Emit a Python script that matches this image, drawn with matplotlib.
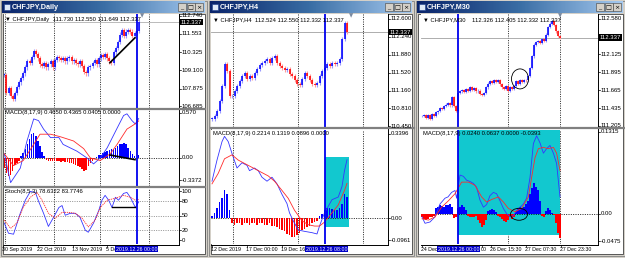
import matplotlib
matplotlib.use("Agg")
import matplotlib.pyplot as plt
import matplotlib.transforms as mtransforms
from matplotlib.colors import LinearSegmentedColormap
from matplotlib.patches import Rectangle, Ellipse
import numpy as np

W, H = 625, 258
plt.rcParams['font.family'] = ['Liberation Sans', 'DejaVu Sans']

# ---------------- CHFJPY, Daily ----------------
daily_close = [108.80, 107.60, 107.90, 107.40, 107.20, 107.60, 108.00, 108.30, 108.60, 108.90,
               109.30, 109.70, 109.60, 110.00, 110.40, 110.20, 109.90, 109.50, 109.40, 109.60,
               109.30, 109.50, 109.70, 109.30, 109.80, 110.00, 109.90, 109.80, 109.90, 109.70,
               109.90, 110.00, 109.70, 109.80, 109.60, 109.50, 109.70, 109.40, 109.00, 108.90,
               109.30, 109.40, 109.60, 109.80, 109.50, 109.90, 110.10, 110.00, 110.20, 109.90,
               109.70, 109.60, 110.30, 110.60, 111.00, 111.50, 111.80, 111.40, 111.70, 111.80,
               111.70, 111.40, 111.60, 111.73, 112.337]
daily_hist = [-0.12, -0.18, -0.21, -0.20, -0.15, -0.08, -0.06, -0.03,
              0.02, 0.06, 0.10, 0.16, 0.22, 0.28, 0.30, 0.26, 0.20, 0.14, 0.07, 0.02,
              -0.02, -0.03, -0.03, -0.04, -0.03, -0.04, -0.04, -0.05, -0.04, -0.05,
              -0.05, -0.06, -0.06, -0.07, -0.08, -0.09, -0.11, -0.13,
              -0.15, -0.14, -0.10, -0.06, -0.03, -0.01, 0.01, 0.03,
              0.04, 0.06, 0.07, 0.08, 0.09, 0.10, 0.11, 0.12, 0.14, 0.16,
              0.17, 0.18, 0.17, 0.12, 0.08, 0.05, 0.02, 0.00, 0.03]
daily_macd_x = [0, 3, 7.6, 10.8, 14, 16.3, 18.7, 22, 26, 28, 34.6, 39.4, 42.5, 45.7, 49,
                53.7, 56.8, 58.4, 60.8, 62.4, 64]
daily_macd = [0.05, -0.29, -0.12, 0.20, 0.46, 0.44, 0.34, 0.24, 0.24, 0.16, 0.08, 0.0, -0.07,
              0.0, 0.12, 0.35, 0.50, 0.52, 0.44, 0.40, 0.465]
daily_signal_x = [0, 4.4, 9, 14, 17, 22, 26.7, 33, 37.8, 41, 45.7, 50.5, 53.7, 58.4, 61.6, 64]
daily_signal = [0.05, -0.09, -0.03, 0.16, 0.28, 0.28, 0.25, 0.20, 0.11, 0.0, -0.03, 0.05,
                0.16, 0.34, 0.39, 0.4365]
daily_stoch_x = [0, 2, 4.4, 7.6, 10, 12.4, 14.8, 16.3, 18.7, 21, 23.5, 26, 27.5, 29, 31.4,
                 33.8, 36, 38.6, 40, 42.5, 45, 46.5, 48, 49.7, 51.3, 52.9, 54.4, 56.8, 58.4,
                 60, 62.4, 64]
daily_stoch = [35, 14, 12, 55, 82, 100, 98, 80, 55, 28, 47, 67, 71, 51, 55, 55, 47, 20, 16,
               35, 61, 82, 92, 82, 67, 88, 82, 96, 98, 88, 67, 78.6]
daily_stoch_sig_x = [0, 3, 6, 9, 12.4, 15.6, 18, 21, 24.3, 27.5, 30.6, 33.8, 37, 40, 43.3,
                     45.7, 49, 52.9, 56.8, 60, 62.4, 64]
daily_stoch_sig = [41, 24, 35, 67, 88, 98, 82, 55, 45, 57, 57, 55, 45, 27, 41, 67, 82, 86,
                   92, 88, 82, 83.8]
daily_price_ticks = [112.740, 111.553, 110.325, 109.100, 107.875, 106.685]

# ---------------- CHFJPY, H4 ----------------
h4_close = [110.60, 110.65, 110.75, 110.95, 111.25, 111.70, 111.55, 111.05, 111.05, 111.15,
            111.25, 111.35, 111.45, 111.52, 111.40, 111.45, 111.42, 111.52, 111.60, 111.68,
            111.72, 111.75, 111.80, 111.72, 111.82, 111.85, 111.72, 111.65, 111.62, 111.58,
            111.60, 111.50, 111.45, 111.38, 111.30, 111.28, 111.40, 111.52, 111.45, 111.38,
            111.30, 111.28, 111.32, 111.45, 111.55, 111.62, 111.70, 111.66, 111.72, 111.70,
            111.72, 111.80, 112.20, 112.52, 112.337]
h4_hist = [0.01, 0.02, 0.04, 0.06, 0.075, 0.105, 0.09, 0.03,
           -0.02, -0.025, -0.02, -0.02, -0.025, -0.02, -0.02, -0.025, -0.02, -0.02,
           -0.025, -0.02, -0.02, -0.025, -0.025, -0.02, -0.03, -0.03,
           -0.035, -0.04, -0.045, -0.05, -0.06, -0.065, -0.07, -0.07, -0.065, -0.055,
           -0.045, -0.04, -0.035, -0.03, -0.02, -0.015, -0.01,
           0.01, 0.015, 0.03, 0.04, 0.04, 0.035, 0.03, 0.03, 0.04, 0.055, 0.09, 0.08]
h4_macd_x = [0, 2, 4, 5, 6.5, 8, 10, 12, 14, 15, 17, 18.5, 20, 22, 24, 26, 28, 30, 31, 32.5,
             34.5, 37, 40, 42, 43, 45, 48, 50.5, 52, 53, 54]
h4_macd = [0.14, 0.22, 0.29, 0.31, 0.29, 0.245, 0.19, 0.21, 0.20, 0.18, 0.19, 0.18, 0.155,
           0.14, 0.155, 0.13, 0.09, 0.055, 0.02, -0.01, -0.045, -0.05, -0.055, -0.06, -0.03,
           0.02, 0.07, 0.08, 0.12, 0.18, 0.2214]
h4_signal_x = [0, 2.5, 5, 8, 10.5, 14.5, 18.5, 22.5, 25, 28, 30.5, 33, 36, 38.5, 41, 43, 45,
               48, 50.5, 53, 54]
h4_signal = [0.13, 0.17, 0.225, 0.24, 0.22, 0.20, 0.18, 0.16, 0.14, 0.105, 0.075, 0.03,
             -0.01, -0.025, -0.03, -0.03, -0.015, 0.02, 0.05, 0.105, 0.1319]
h4_price_ticks = [112.600, 112.240, 111.880, 111.520, 111.160, 110.810, 110.450]

# ---------------- CHFJPY, M30 ----------------
m30_close = [111.33, 111.35, 111.31, 111.34, 111.30, 111.36, 111.33, 111.38, 111.40, 111.43,
             111.42, 111.46, 111.48, 111.50, 111.47, 111.58, 111.46, 111.40, 111.63, 111.65,
             111.67, 111.64, 111.68, 111.66, 111.70, 111.67, 111.69, 111.65, 111.66, 111.62,
             111.60, 111.63, 111.70, 111.75, 111.78, 111.76, 111.80, 111.77, 111.80, 111.74,
             111.70, 111.68, 111.72, 111.66, 111.70, 111.68, 111.72, 111.78, 111.75, 111.79,
             111.77, 111.80, 111.79, 111.85, 111.95, 112.10, 112.25, 112.28, 112.30, 112.27,
             112.32, 112.30, 112.38, 112.48, 112.52, 112.55, 112.50, 112.42, 112.36, 112.337]
m30_hist = [-0.005, -0.008, -0.01, -0.008, -0.006, -0.005, -0.003,
            0.008, 0.01, 0.013, 0.012, 0.011, 0.013, 0.014, 0.015, 0.01,
            -0.007, -0.005,
            0.008, 0.01, 0.013, 0.011, 0.005,
            -0.003, -0.005, -0.006, -0.006, -0.004,
            -0.01, -0.015, -0.02, -0.018, -0.01,
            0.004, 0.006, 0.007, 0.006, 0.003,
            -0.003, -0.005,
            -0.008, -0.012, -0.013, -0.01, -0.006,
            -0.008, -0.005,
            0.004, 0.008, 0.01, 0.009,
            0.011, 0.015, 0.02, 0.031, 0.04, 0.047, 0.042, 0.036, 0.02,
            -0.004, -0.005,
            0.004, 0.008, 0.006,
            0.001, -0.002,
            -0.015, -0.03, -0.038]
m30_macd_x = [0, 1.5, 4, 6.5, 9, 11.5, 13, 14.8, 16.5, 17.3, 19, 20.7, 22.3, 24, 25.7, 27.3,
              29, 30.7, 32.3, 34, 35.7, 37.3, 39, 40.7, 42.3, 44, 45.7, 47.3, 49, 50.7, 52.3,
              54, 55.7, 57.3, 59, 60.7, 62.3, 64, 65.7, 67.3, 69]
m30_macd = [-0.005, -0.015, -0.013, -0.005, 0.015, 0.024, 0.026, 0.033, 0.036, 0.024, 0.06,
            0.058, 0.052, 0.05, 0.047, 0.041, 0.021, 0.01, 0.014, 0.028, 0.033, 0.031, 0.02,
            0.008, 0.0, -0.005, -0.003, 0.005, 0.01, 0.015, 0.024, 0.056, 0.109, 0.121, 0.11,
            0.094, 0.101, 0.106, 0.094, 0.078, 0.026]
m30_signal_x = [0, 3.2, 6.5, 9.8, 13.2, 16.5, 19.8, 23.2, 26.5, 29.8, 32.3, 34.8, 38.2, 40.7,
                43.2, 46.5, 49.8, 53.2, 54.8, 56.5, 58.2, 60.7, 63.2, 65.7, 67.3, 69]
m30_signal = [-0.008, -0.01, -0.005, 0.01, 0.02, 0.031, 0.049, 0.049, 0.044, 0.026, 0.018,
              0.022, 0.026, 0.018, 0.008, 0.003, 0.008, 0.026, 0.056, 0.087, 0.101, 0.103,
              0.101, 0.103, 0.094, 0.067]
m30_price_ticks = [112.580, 112.125, 111.895, 111.665, 111.435, 111.205]

current_price = 112.337

BLUE, RED = '#0000ff', '#ff0000'
CYAN = '#12c8cf'
FRAME = '#d4d0c8'

fig = plt.figure(figsize=(W / 100, H / 100), dpi=100)
bg = fig.add_axes([0, 0, 1, 1])
bg.set_xlim(0, W)
bg.set_ylim(H, 0)
bg.axis('off')
bg.add_patch(Rectangle((0, 0), W, H, fc=FRAME, ec='none'))

title_cmap = LinearSegmentedColormap.from_list('tb', ['#0a246a', '#3a6ea5', '#a6caf0'])
grad = np.linspace(0, 1, 200).reshape(1, -1)


def draw_window(x0, x1, title):
    bg.add_patch(Rectangle((x0 + 0.5, 0.5), x1 - x0 - 1, 255, fc=FRAME, ec='#808080', lw=0.6))
    bg.imshow(grad, cmap=title_cmap, extent=(x0 + 2, x1 - 2, 13, 1.5), aspect='auto', zorder=2)
    bg.add_patch(Rectangle((x0 + 3.5, 3.5), 6, 6, fc='#dfe9f7', ec='#1a3c8c', lw=0.4, zorder=3))
    bg.text(x0 + 12, 7.5, title, color='white', fontsize=5.2, fontweight='bold',
            va='center', ha='left', zorder=3)
    for k, glyph in enumerate(['_', '□', '×']):
        bx = x1 - 29 + k * 8.6
        bg.add_patch(Rectangle((bx, 3), 8, 8, fc=FRAME, ec='#404040', lw=0.4, zorder=3))
        bg.text(bx + 4, 7.3, glyph, fontsize=4.5, ha='center', va='center', zorder=4,
                family='DejaVu Sans')
    bg.add_patch(Rectangle((x0 + 3, 14), x1 - x0 - 5, 239.5, fc='white', ec='#404040',
                           lw=0.6, zorder=2))


draw_window(0, 207, 'CHFJPY,Daily')
draw_window(208, 414, 'CHFJPY,H4')
draw_window(415, 625, 'CHFJPY,M30')


def panel(x0, y0, x1, y1, first, step, ylim):
    ax = fig.add_axes([x0 / W, 1 - y1 / H, (x1 - x0) / W, (y1 - y0) / H])
    ax.set_xlim((x0 - first) / step, (x1 - first) / step)
    ax.set_ylim(*ylim)
    ax.set_facecolor('white')
    ax.set_xticks([])
    ax.set_yticks([])
    for s in ax.spines.values():
        s.set_visible(False)
    ax.first, ax.step = first, step
    return ax


def vgrid(ax, pxs):
    for g in pxs:
        ax.axvline((g - ax.first) / ax.step, color='black', lw=0.6, ls=(0, (1.2, 1.6)), zorder=1)


def candles(ax, closes, wick):
    c = np.array(closes)
    o = np.concatenate([[c[0]], c[:-1]])
    x = np.arange(len(c))
    lo, hi = np.minimum(o, c), np.maximum(o, c)
    up = c >= o
    ax.vlines(x, lo - wick, hi + wick, colors=np.where(up, '#9a9aff', '#ff9a9a'), lw=0.8, zorder=3)
    ax.vlines(x, lo, hi + (hi - lo < wick * 0.3) * wick * 0.3,
              colors=np.where(up, BLUE, RED), lw=1.15, zorder=4)


def macd_panel(ax, hist, mx, mv, sx, sv, width):
    h = np.array(hist)
    ax.bar(np.arange(len(h)), h, width=width, color=np.where(h >= 0, BLUE, RED), lw=0, zorder=3)
    ax.axhline(0, color='black', lw=0.6, ls=(0, (1.2, 1.6)), zorder=2)
    ax.plot(mx, mv, color='#3535ff', lw=0.6, zorder=5)
    ax.plot(sx, sv, color='#ff2a2a', lw=0.6, zorder=5)


# ---- window 1 : Daily ----
D_FIRST, D_STEP = 4.3, 2.1
d_price = panel(4, 14, 179, 107.5, D_FIRST, D_STEP, (106.618, 112.873))
d_macd = panel(4, 110, 179, 186, D_FIRST, D_STEP, (-0.33, 0.565))
d_stoch = panel(4, 188.5, 179, 244, D_FIRST, D_STEP, (-8.2, 106.1))
for ax in (d_price, d_macd, d_stoch):
    vgrid(ax, [4.5, 54, 100, 149])
    ax.axvline(63, color='#0000ee', lw=1.3, zorder=6)
d_price.axhline(current_price, color='#b0b0b0', lw=0.6, zorder=2)
candles(d_price, daily_close, 0.15)
d_price.plot([50.3, 62.2], [109.61, 111.28], color='black', lw=1.2, zorder=7)
macd_panel(d_macd, daily_hist, daily_macd_x, daily_macd, daily_signal_x, daily_signal, 0.7)
d_macd.plot([50.3, 62.2], [0.035, -0.02], color='black', lw=1.2, zorder=7)
for lvl in (20, 50, 80):
    d_stoch.axhline(lvl, color='#808080', lw=0.6, ls=(0, (1.2, 1.6)), zorder=2)
d_stoch.plot(daily_stoch_x, daily_stoch, color='#3535ff', lw=0.6, zorder=5)
d_stoch.plot(daily_stoch_sig_x, daily_stoch_sig, color='#ff2a2a', lw=0.6,
             ls=(0, (1.5, 1.0)), zorder=5)
d_stoch.plot([51.3, 62.2], [69, 69], color='black', lw=1.0, zorder=7)

# ---- window 2 : H4 ----
H_FIRST, H_STEP = 212, 2.5
h_price = panel(211, 14, 388, 127, H_FIRST, H_STEP, (110.430, 112.700))
h_macd = panel(211, 129.5, 388, 244, H_FIRST, H_STEP, (-0.098, 0.336))
for ax in (h_price, h_macd):
    vgrid(ax, [233, 298, 363])
    ax.axvline(45, color='#0000ee', lw=1.3, zorder=6)
h_price.axhline(current_price, color='#a0a0a0', lw=0.6, zorder=2)
candles(h_price, h4_close, 0.04)
h_macd.add_patch(Rectangle((45, -0.034), 9.8, 0.264, fc=CYAN, ec='none', zorder=1))
macd_panel(h_macd, h4_hist, h4_macd_x, h4_macd, h4_signal_x, h4_signal, 0.7)

# ---- window 3 : M30 ----
M_FIRST, M_STEP = 422, 2.0
m_price = panel(421, 14, 598, 127, M_FIRST, M_STEP, (111.192, 112.644))
m_macd = panel(421, 129.5, 598, 244, M_FIRST, M_STEP, (-0.0472, 0.1308))
for ax in (m_price, m_macd):
    vgrid(ax, [508, 560])
    ax.axvline(18, color='#0000ee', lw=1.3, zorder=6)
m_price.axhline(current_price, color='#a0a0a0', lw=0.6, zorder=2)
candles(m_price, m30_close, 0.015)
m_price.add_patch(Ellipse((49, 111.81), 8.5, 0.257, fc='none', ec='black', lw=0.6, zorder=7))
m_macd.add_patch(Rectangle((18, -0.033), 51, 0.2, fc=CYAN, ec='none', zorder=1))
macd_panel(m_macd, m30_hist, m30_macd_x, m30_macd, m30_signal_x, m30_signal, 1.0)
m_macd.add_patch(Ellipse((48.5, -0.001), 8.5, 0.0186, fc='none', ec='black', lw=0.6, zorder=7))

# ---- overlay: separators, scales, labels ----
ov = fig.add_axes([0, 0, 1, 1])
ov.set_xlim(0, W)
ov.set_ylim(H, 0)
ov.axis('off')
ov.patch.set_alpha(0)

FS = 4.3


def price_scale(ax, xaxis, ticks):
    tr = mtransforms.blended_transform_factory(ov.transData, ax.transData)
    for t in ticks:
        ov.text(xaxis + 2.5, t, f'{t:.3f}', transform=tr, fontsize=FS, va='center', ha='left')
        ov.plot([xaxis, xaxis + 2], [t, t], transform=tr, color='black', lw=0.5)
    ov.text(xaxis + 1.5, current_price, f'{current_price:.3f}', transform=tr, fontsize=FS,
            va='center', ha='left', color='white',
            bbox=dict(boxstyle='square,pad=0.15', fc='black', ec='none'))


def frame_lines(xl, xaxis, seps):
    ov.plot([xaxis, xaxis], [14, 244.5], color='black', lw=0.7)
    ov.plot([xl, xaxis], [244.5, 244.5], color='black', lw=0.7)
    for y in seps:
        ov.plot([xl, xaxis + 26], [y, y], color='#808080', lw=1.6)


frame_lines(3.5, 179, [108.8, 187.3])
frame_lines(210.5, 388, [128.3])
frame_lines(420.5, 598, [128.3])

price_scale(d_price, 179, daily_price_ticks)
price_scale(h_price, 388, h4_price_ticks)
price_scale(m_price, 598, m30_price_ticks)


def ind_label(ax, xaxis, value, text):
    tr = mtransforms.blended_transform_factory(ov.transData, ax.transData)
    ov.text(xaxis + 2.5, value, text, transform=tr, fontsize=FS, va='center', ha='left')
    ov.plot([xaxis, xaxis + 2], [value, value], transform=tr, color='black', lw=0.5)


ind_label(d_macd, 179, 0.53, '0.570')
ind_label(d_macd, 179, 0.0, '0.00')
ind_label(d_macd, 179, -0.26, '-0.3372')
for lvl in (100, 80, 50, 20, 0):
    ind_label(d_stoch, 179, lvl, str(lvl))
ind_label(h_macd, 388, 0.32, '0.3396')
ind_label(h_macd, 388, 0.0, '0.00')
ind_label(h_macd, 388, -0.083, '-0.0961')
ind_label(m_macd, 598, 0.127, '0.1315')
ind_label(m_macd, 598, 0.0, '0.00')
ind_label(m_macd, 598, -0.043, '-0.0475')

# headers inside panels
HF = 4.2
ov.text(5, 19.5, '▼ CHFJPY,Daily  111.730 112.550 111.649 112.337', fontsize=HF, va='center')
ov.text(5, 112.5, 'MACD(8,17,9) 0.4650 0.4365 0.0405 0.0000', fontsize=HF, va='center')
ov.text(5, 191.5, 'Stoch(8,5,3) 78.6322 83.7746', fontsize=HF, va='center')
ov.text(213, 19.5, '▼ CHFJPY,H4  112.524 112.550 112.332 112.337', fontsize=HF, va='center')
ov.text(213, 134, 'MACD(8,17,9) 0.2214 0.1319 0.0896 0.0000', fontsize=HF, va='center')
ov.text(423, 19.5, '▼ CHFJPY,M30    112.326 112.405 112.332 112.337', fontsize=HF, va='center')
ov.text(423, 134, 'MACD(8,17,9) 0.0240 0.0637 0.0000 -0.0393', fontsize=HF, va='center')

# chart-shift markers
for mx in (142, 351, 560):
    ov.text(mx, 15.5, '▼', fontsize=4, color='#7a8aa0', ha='center', va='center',
            family='DejaVu Sans')

# time axis
DF = 3.8
date_labels = [(2, '30 Sep 2019'), (37, '22 Oct 2019'), (72, '13 Nov 2019'), (106, '5 De'),
               (211, '12 Dec 2019'), (246, '17 Dec 00:00'), (281, '19 Dec 16'),
               (421, '24 Dec'), (481, '00'), (490, '26 Dec 15:30'), (525, '27 Dec 07:30'),
               (560, '27 Dec 23:30')]
for x, lab in date_labels:
    ov.plot([x + 0.5, x + 0.5], [244.5, 246.5], color='black', lw=0.5)
    ov.text(x, 249.3, lab, fontsize=DF, va='center', ha='left')
for x, lab in [(116, '2019.12.26 00:00'), (305.5, '2019.12.26 08:00'),
               (437.5, '2019.12.26 00:00')]:
    ov.text(x, 249.3, lab, fontsize=DF, va='center', ha='left', color='white',
            bbox=dict(boxstyle='square,pad=0.12', fc='#0000c8', ec='none'))

fig.savefig('out.png', dpi=100)
